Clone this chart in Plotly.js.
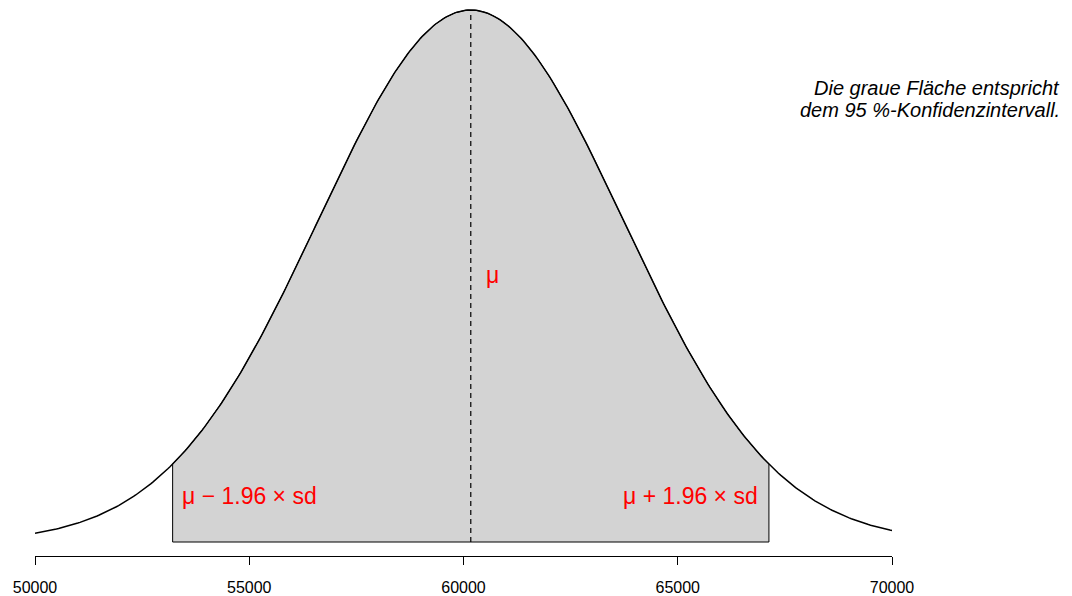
<!DOCTYPE html>
<html><head><meta charset="utf-8">
<script src="https://cdn.plot.ly/plotly-3.0.1.min.js"></script>
<style>html,body{margin:0;padding:0;background:#fff}#chart{width:1072px;height:596px}</style>
</head><body><div id="chart"></div>
<script>
// Parameters
const mu = 60170;          // mean (dashed line)
const sd = 3550;           // standard deviation
const zCrit = 1.96;        // 95 % bounds
const xRange = [50000, 70000];
const tickVals = [50000, 55000, 60000, 65000, 70000];
const tickText = ["50000", "55000", "60000", "65000", "70000"];
const noteLines = ["Die graue Fläche entspricht", "dem 95 %-Konfidenzintervall."];
const labelMu = "μ";
const labelLo = "μ − 1.96 × sd";
const labelHi = "μ + 1.96 × sd";

function dnorm(x){ return Math.exp(-0.5*((x-mu)/sd)**2)/(sd*Math.sqrt(2*Math.PI)); }
const lo = mu - zCrit*sd, hi = mu + zCrit*sd;
const n = 400;
const cx = [], cy = [];
for (let i=0;i<=n;i++){ const x = xRange[0] + (xRange[1]-xRange[0])*i/n; cx.push(x); cy.push(dnorm(x)); }
const fx = [lo], fy = [0];
for (let i=0;i<=n;i++){ const x = lo + (hi-lo)*i/n; fx.push(x); fy.push(dnorm(x)); }
fx.push(hi, lo); fy.push(0, 0);

const peak = dnorm(mu);
// plot area: 0..556 px; zero at 542 px, peak at 10 px
const s = 532/peak;
const yRange = [-14/s, peak + 10/s];

const traces = [
  {x: fx, y: fy, type:'scatter', mode:'lines', fill:'toself', fillcolor:'#D3D3D3',
   line:{color:'#000', width:1}, hoverinfo:'skip'},
  {x: [mu, mu], y: [0, peak], type:'scatter', mode:'lines',
   line:{color:'#000', width:1.2, dash:'5px,4px'}, hoverinfo:'skip'},
  {x: cx, y: cy, type:'scatter', mode:'lines', line:{color:'#000', width:1.5}, hoverinfo:'skip'}
];
const red = {family:'Liberation Sans, Arial, sans-serif', size:23, color:'#FF0000'};
const noteFont = {family:'Liberation Sans, Arial, sans-serif', size:20, color:'#000'};
const layout = {
  width:1072, height:596, margin:{l:35, r:180, t:0, b:40},
  paper_bgcolor:'#fff', plot_bgcolor:'#fff', showlegend:false,
  font:{family:'Liberation Sans, Arial, sans-serif', color:'#000'},
  xaxis:{range:xRange, tickvals:tickVals, ticktext:tickText, ticks:'outside', ticklen:8,
    tickcolor:'#000', showline:true, linecolor:'#000', linewidth:1, showgrid:false,
    zeroline:false, tickfont:{size:16, color:'#000'}, ticklabelstandoff:9, fixedrange:true},
  yaxis:{range:yRange, visible:false, showgrid:false, zeroline:false, fixedrange:true},
  annotations:[
    {x: 60665, y: 1-275/556, xref:'x', yref:'paper', text:labelMu, showarrow:false,
     xanchor:'center', yanchor:'middle', font:red},
    {x: 53380, y: 1-496/556, xref:'x', yref:'paper', text:labelLo, showarrow:false,
     xanchor:'left', yanchor:'middle', font:red},
    {x: 66920, y: 1-496/556, xref:'x', yref:'paper', text:labelHi, showarrow:false,
     xanchor:'right', yanchor:'middle', font:red},
    {x: (1062-35)/857, y: 1-88/556, xref:'paper', yref:'paper', text:'<i>'+noteLines[0]+'</i>',
     showarrow:false, xanchor:'right', yanchor:'middle', font:noteFont},
    {x: (1062-35)/857, y: 1-110/556, xref:'paper', yref:'paper', text:'<i>'+noteLines[1]+'</i>',
     showarrow:false, xanchor:'right', yanchor:'middle', font:noteFont}
  ]
};
Plotly.newPlot('chart', traces, layout, {displayModeBar:false, staticPlot:true});
</script></body></html>
